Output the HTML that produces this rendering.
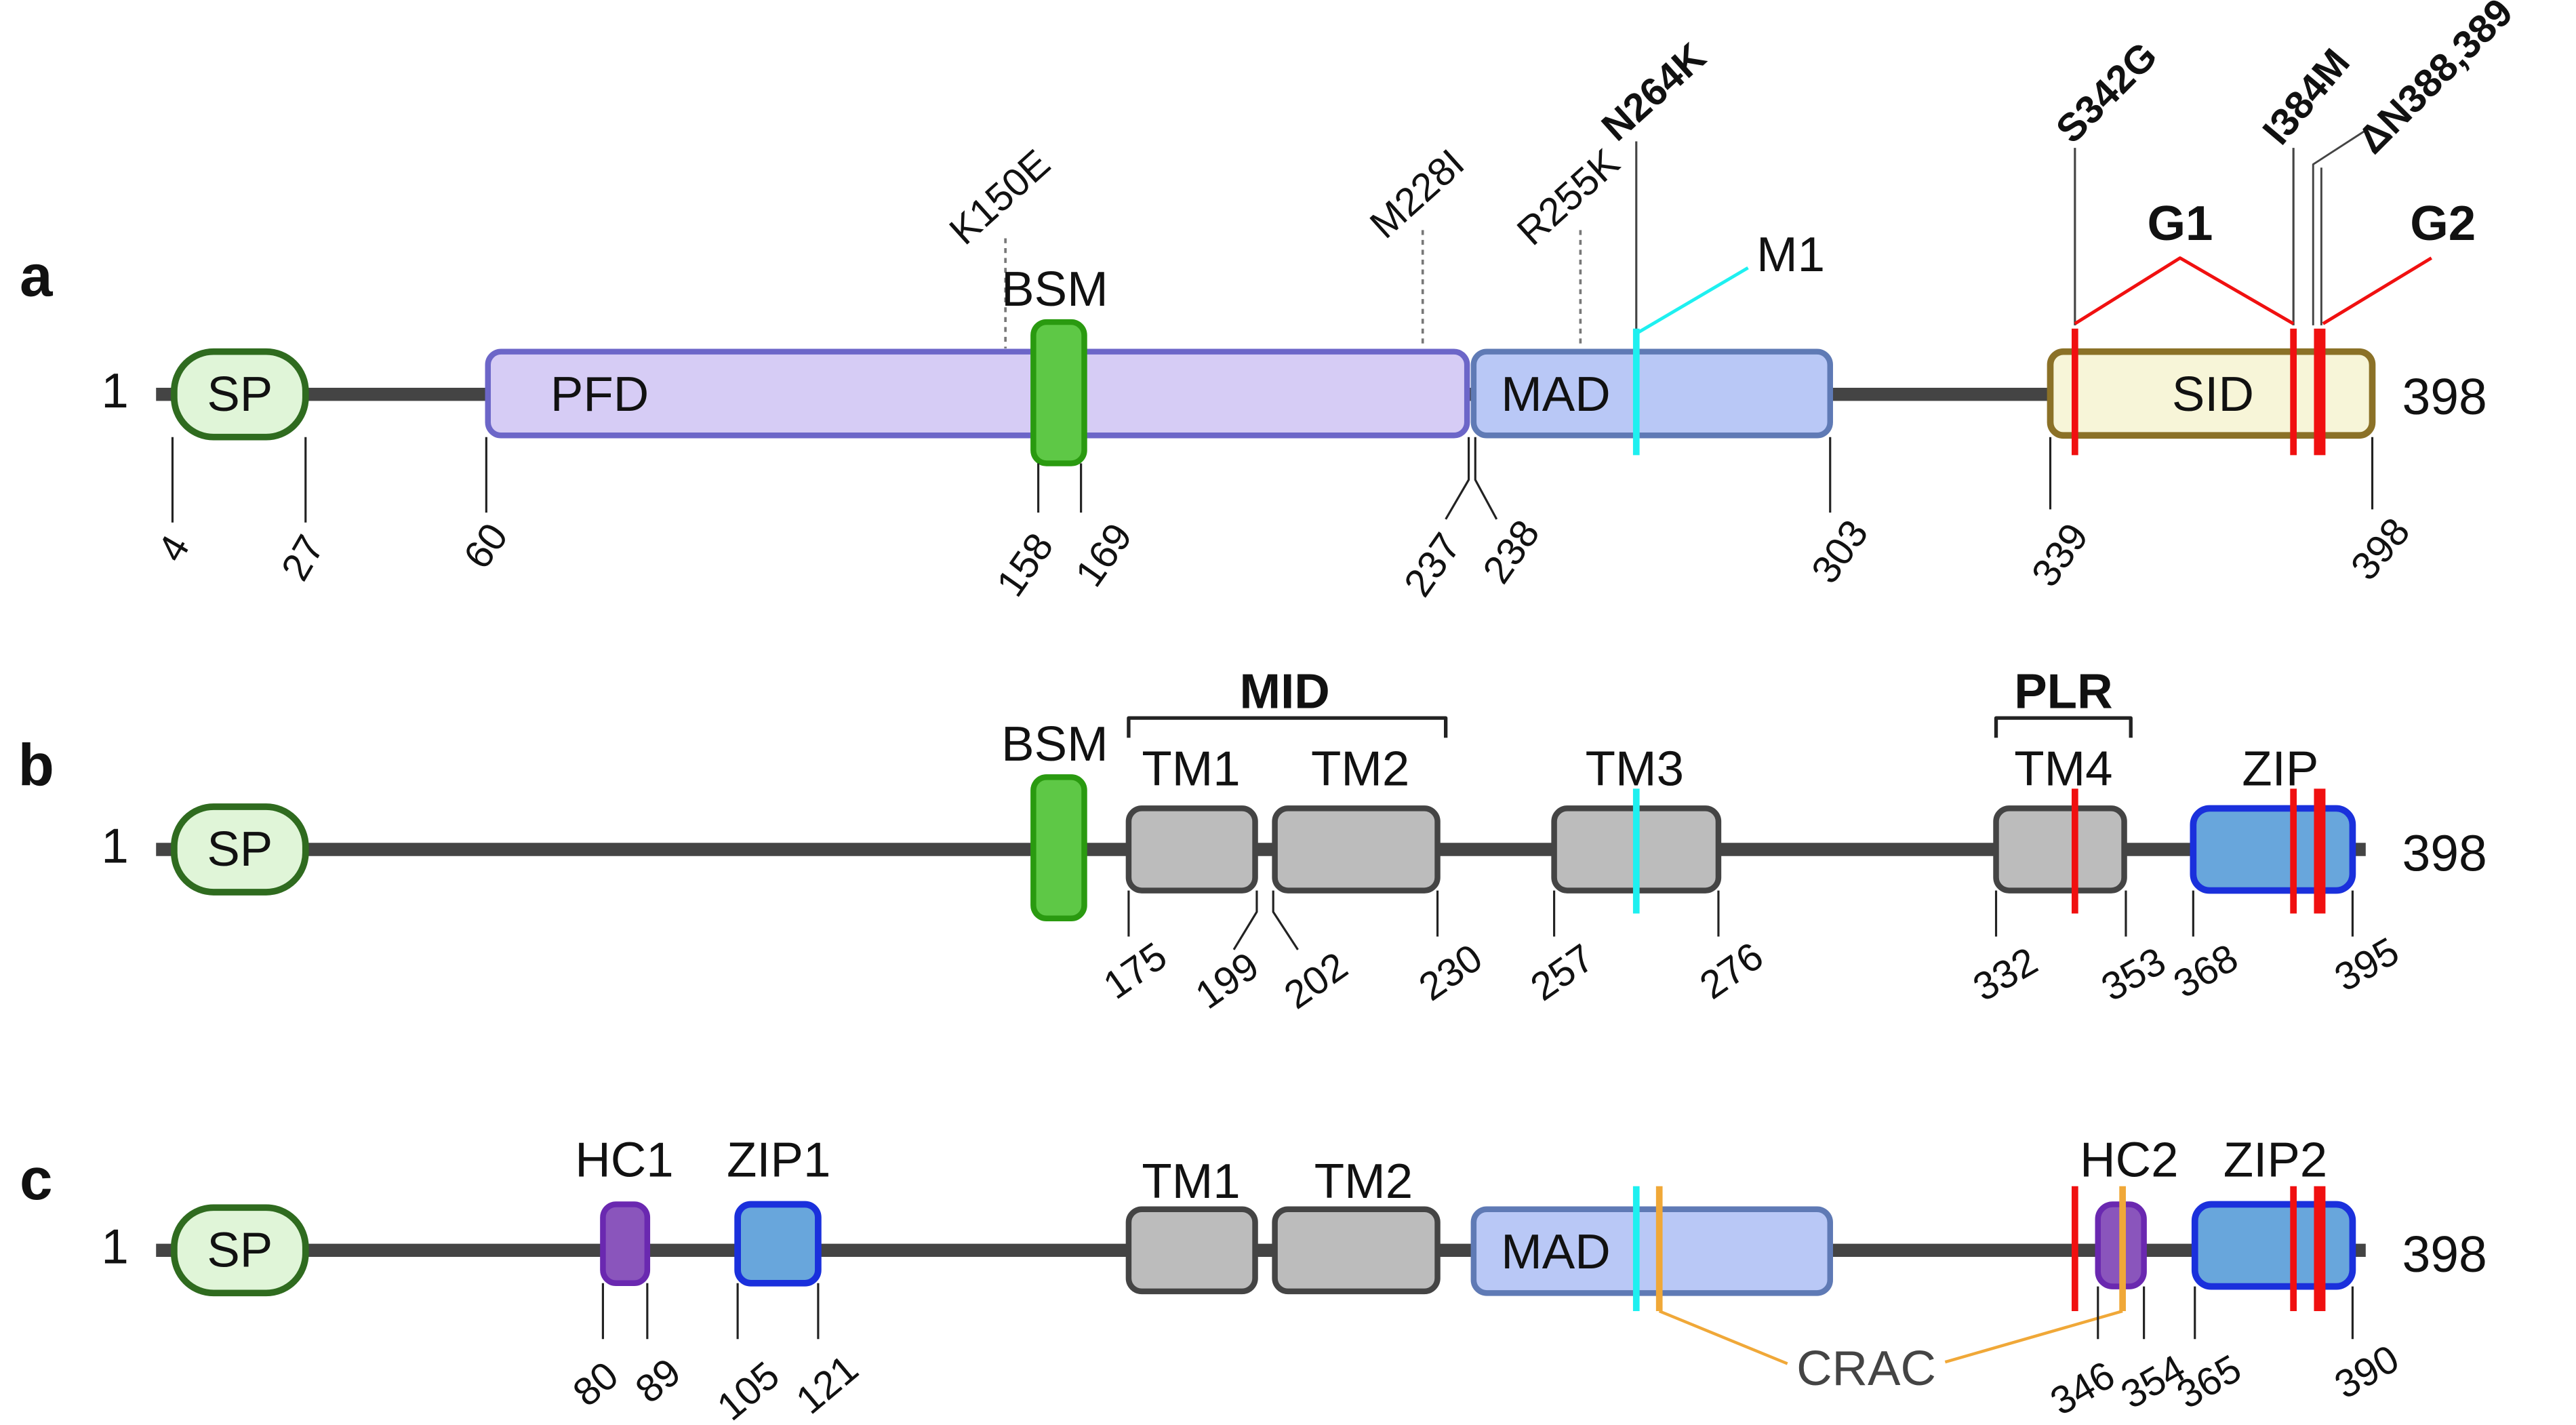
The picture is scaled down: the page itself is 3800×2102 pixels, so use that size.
<!DOCTYPE html>
<html><head><meta charset="utf-8"><style>
html,body{margin:0;padding:0;background:#fff}
svg{display:block}
text{font-family:"Liberation Sans",sans-serif;fill:#111}
.d{font-size:30px;text-anchor:middle}
.t{font-size:24px;text-anchor:end}
.m{font-size:24px;text-anchor:middle}
.b{font-weight:bold}
</style></head><body>
<svg width="3800" height="2102" viewBox="0 0 1568 867.3" xmlns="http://www.w3.org/2000/svg">
<g fill="none" stroke-linejoin="round">
<!-- ===== ROW A ===== -->
<line x1="95" y1="240" x2="1250" y2="240" stroke="#444" stroke-width="8"/>
<line x1="612" y1="145" x2="612" y2="212" stroke="#777" stroke-width="1.5" stroke-dasharray="3,3"/>
<line x1="866" y1="140" x2="866" y2="212" stroke="#777" stroke-width="1.5" stroke-dasharray="3,3"/>
<line x1="962" y1="140" x2="962" y2="212" stroke="#777" stroke-width="1.5" stroke-dasharray="3,3"/>
<rect x="106" y="214" width="80" height="52" rx="24" fill="#e0f5d8" stroke="#2f6b1f" stroke-width="4"/>
<rect x="297" y="214" width="596" height="51" rx="8" fill="#d6ccf5" stroke="#6c66c8" stroke-width="3.5"/>
<rect x="897" y="214" width="217" height="51" rx="8" fill="#b9c8f6" stroke="#5f7ab5" stroke-width="3.5"/>
<rect x="1248" y="214" width="196" height="51" rx="8" fill="#f7f5d8" stroke="#8b7127" stroke-width="4"/>
<rect x="629" y="196" width="31" height="86" rx="8" fill="#5ec846" stroke="#2a9a10" stroke-width="3.5"/>
<line x1="996" y1="86" x2="996" y2="203" stroke="#444" stroke-width="1.3"/>
<line x1="996" y1="200" x2="996" y2="277" stroke="#1ef0f0" stroke-width="4"/>
<polyline points="996,203 1064,163" stroke="#1ef0f0" stroke-width="2"/>
<line x1="1263" y1="90" x2="1263" y2="198" stroke="#444" stroke-width="1.3"/>
<line x1="1396" y1="90" x2="1396" y2="198" stroke="#444" stroke-width="1.3"/>
<polyline points="1408,198 1408,100 1442,78" stroke="#444" stroke-width="1.2"/>
<polyline points="1413,198 1413,102" stroke="#444" stroke-width="1.2"/>
<polyline points="1263,197 1327,157 1396,197" stroke="#f01010" stroke-width="2"/>
<polyline points="1414,197 1480,157" stroke="#f01010" stroke-width="2"/>
<line x1="1263" y1="200" x2="1263" y2="277" stroke="#f01010" stroke-width="4"/>
<line x1="1396" y1="200" x2="1396" y2="277" stroke="#f01010" stroke-width="4"/>
<line x1="1412" y1="200" x2="1412" y2="277" stroke="#f01010" stroke-width="7"/>
<g stroke="#222" stroke-width="1.3">
<line x1="105" y1="266" x2="105" y2="318"/><line x1="186" y1="266" x2="186" y2="318"/>
<line x1="296" y1="266" x2="296" y2="312"/><line x1="632" y1="282" x2="632" y2="312"/>
<line x1="658" y1="282" x2="658" y2="312"/><line x1="1114" y1="266" x2="1114" y2="312"/>
<line x1="1248" y1="266" x2="1248" y2="310"/><line x1="1444" y1="266" x2="1444" y2="310"/>
<polyline points="894,266 894,292 880,316"/><polyline points="898,266 898,292 911,316"/>
</g>
<!-- ===== ROW B ===== -->
<line x1="95" y1="517" x2="1440" y2="517" stroke="#444" stroke-width="8"/>
<rect x="106" y="491" width="80" height="52" rx="24" fill="#e0f5d8" stroke="#2f6b1f" stroke-width="4"/>
<rect x="629" y="473" width="31" height="86" rx="8" fill="#5ec846" stroke="#2a9a10" stroke-width="3.5"/>
<rect x="687" y="492" width="77" height="50" rx="8" fill="#bcbcbc" stroke="#444" stroke-width="3.5"/>
<rect x="776" y="492" width="99" height="50" rx="8" fill="#bcbcbc" stroke="#444" stroke-width="3.5"/>
<rect x="946" y="492" width="100" height="50" rx="8" fill="#bcbcbc" stroke="#444" stroke-width="3.5"/>
<rect x="1215" y="492" width="78" height="50" rx="8" fill="#bcbcbc" stroke="#444" stroke-width="3.5"/>
<rect x="1335" y="492" width="97" height="50" rx="10" fill="#68a6dc" stroke="#1a30dc" stroke-width="4"/>
<line x1="996" y1="480" x2="996" y2="556" stroke="#1ef0f0" stroke-width="4"/>
<line x1="1263" y1="480" x2="1263" y2="556" stroke="#f01010" stroke-width="4"/>
<line x1="1396" y1="480" x2="1396" y2="556" stroke="#f01010" stroke-width="4"/>
<line x1="1412" y1="480" x2="1412" y2="556" stroke="#f01010" stroke-width="7"/>
<polyline points="687,449 687,437 880,437 880,449" stroke="#222" stroke-width="2.2"/>
<polyline points="1215,449 1215,437 1297,437 1297,449" stroke="#222" stroke-width="2.2"/>
<g stroke="#222" stroke-width="1.3">
<line x1="687" y1="542" x2="687" y2="570"/><polyline points="765,542 765,555 751,578"/>
<polyline points="775,542 775,555 790,578"/><line x1="875" y1="542" x2="875" y2="570"/>
<line x1="946" y1="542" x2="946" y2="570"/><line x1="1046" y1="542" x2="1046" y2="570"/>
<line x1="1215" y1="542" x2="1215" y2="570"/><line x1="1294" y1="542" x2="1294" y2="570"/>
<line x1="1335" y1="542" x2="1335" y2="570"/><line x1="1432" y1="542" x2="1432" y2="570"/>
</g>
<!-- ===== ROW C ===== -->
<line x1="95" y1="761" x2="1440" y2="761" stroke="#444" stroke-width="8"/>
<rect x="106" y="735" width="80" height="52" rx="24" fill="#e0f5d8" stroke="#2f6b1f" stroke-width="4"/>
<rect x="367" y="733" width="27" height="48" rx="8" fill="#8a55bc" stroke="#6a28b0" stroke-width="3.5"/>
<rect x="449" y="733" width="49" height="48" rx="8" fill="#68a6dc" stroke="#1a30dc" stroke-width="4"/>
<rect x="687" y="736" width="77" height="50" rx="8" fill="#bcbcbc" stroke="#444" stroke-width="3.5"/>
<rect x="776" y="736" width="99" height="50" rx="8" fill="#bcbcbc" stroke="#444" stroke-width="3.5"/>
<rect x="897" y="736" width="217" height="51" rx="8" fill="#b9c8f6" stroke="#5f7ab5" stroke-width="3.5"/>
<rect x="1277" y="733" width="28" height="50" rx="9" fill="#8a55bc" stroke="#6a28b0" stroke-width="3.5"/>
<rect x="1336" y="733" width="96" height="50" rx="10" fill="#68a6dc" stroke="#1a30dc" stroke-width="4"/>
<line x1="996" y1="722" x2="996" y2="798" stroke="#1ef0f0" stroke-width="4"/>
<line x1="1010" y1="722" x2="1010" y2="798" stroke="#f0a838" stroke-width="4"/>
<line x1="1263" y1="722" x2="1263" y2="798" stroke="#f01010" stroke-width="4"/>
<line x1="1292" y1="722" x2="1292" y2="798" stroke="#f0a838" stroke-width="4"/>
<line x1="1396" y1="722" x2="1396" y2="798" stroke="#f01010" stroke-width="4"/>
<line x1="1412" y1="722" x2="1412" y2="798" stroke="#f01010" stroke-width="7"/>
<polyline points="1010,798 1088,830" stroke="#f0a838" stroke-width="1.8"/>
<polyline points="1292,798 1184,829" stroke="#f0a838" stroke-width="1.8"/>
<g stroke="#222" stroke-width="1.3">
<line x1="367" y1="781" x2="367" y2="815"/><line x1="394" y1="781" x2="394" y2="815"/>
<line x1="449" y1="781" x2="449" y2="815"/><line x1="498" y1="781" x2="498" y2="815"/>
<line x1="1277" y1="783" x2="1277" y2="815"/><line x1="1305" y1="783" x2="1305" y2="815"/>
<line x1="1336" y1="783" x2="1336" y2="815"/><line x1="1432" y1="783" x2="1432" y2="815"/>
</g>
</g>

<!-- ===== TEXT ===== -->
<text x="22" y="180" font-size="36" class="b" text-anchor="middle">a</text>
<text x="22" y="478" font-size="36" class="b" text-anchor="middle">b</text>
<text x="22" y="730" font-size="36" class="b" text-anchor="middle">c</text>
<text x="70" y="248" font-size="30" text-anchor="middle">1</text>
<text x="70" y="525" font-size="30" text-anchor="middle">1</text>
<text x="70" y="769" font-size="30" text-anchor="middle">1</text>
<text x="1488" y="252" font-size="31" text-anchor="middle">398</text>
<text x="1488" y="530" font-size="31" text-anchor="middle">398</text>
<text x="1488" y="774" font-size="31" text-anchor="middle">398</text>

<text class="d" x="146" y="250">SP</text>
<text class="d" x="146" y="527">SP</text>
<text class="d" x="146" y="771">SP</text>
<text class="d" x="365" y="250">PFD</text>
<text class="d" x="947" y="250">MAD</text>
<text class="d" x="947" y="772">MAD</text>
<text class="d" x="1347" y="250">SID</text>
<text class="d" x="642" y="186">BSM</text>
<text class="d" x="642" y="463">BSM</text>
<text class="d" x="1090" y="165">M1</text>
<text class="d b" x="1327" y="146">G1</text>
<text class="d b" x="1487" y="146">G2</text>
<text class="d b" x="782" y="431">MID</text>
<text class="d b" x="1256" y="431">PLR</text>
<text class="d" x="725" y="478">TM1</text>
<text class="d" x="828" y="478">TM2</text>
<text class="d" x="995" y="478">TM3</text>
<text class="d" x="1256" y="478">TM4</text>
<text class="d" x="1388" y="478">ZIP</text>
<text class="d" x="380" y="716">HC1</text>
<text class="d" x="474" y="716">ZIP1</text>
<text class="d" x="725" y="729">TM1</text>
<text class="d" x="830" y="729">TM2</text>
<text class="d" x="1296" y="716">HC2</text>
<text class="d" x="1385" y="716">ZIP2</text>
<text class="d" x="1136" y="843" style="fill:#444">CRAC</text>

<!-- mutation labels -->
<text class="m" transform="translate(614,126) rotate(-42)">K150E</text>
<text class="m" transform="translate(868,124) rotate(-42)">M228I</text>
<text class="m" transform="translate(960,126) rotate(-42)">R255K</text>
<text class="m b" font-size="25" transform="translate(1012,62) rotate(-42)">N264K</text>
<text class="m b" font-size="25" transform="translate(1288,62) rotate(-45)">S342G</text>
<text class="m b" font-size="25" transform="translate(1410,64) rotate(-50)">I384M</text>
<text class="m b" font-size="25" transform="translate(1488,52) rotate(-45)">ΔN388,389</text>

<!-- tick labels row a -->
<text class="t" transform="translate(116,332) rotate(-60)">4</text>
<text class="t" transform="translate(198,332) rotate(-60)">27</text>
<text class="t" transform="translate(310,326) rotate(-55)">60</text>
<text class="t" transform="translate(642,332) rotate(-55)">158</text>
<text class="t" transform="translate(690,326) rotate(-55)">169</text>
<text class="t" transform="translate(890,332) rotate(-55)">237</text>
<text class="t" transform="translate(938,324) rotate(-55)">238</text>
<text class="t" transform="translate(1138,324) rotate(-55)">303</text>
<text class="t" transform="translate(1272,326) rotate(-55)">339</text>
<text class="t" transform="translate(1468,324) rotate(-50)">398</text>
<!-- tick labels row b -->
<text class="t" transform="translate(712,586) rotate(-35)">175</text>
<text class="t" transform="translate(768,592) rotate(-35)">199</text>
<text class="t" transform="translate(822,592) rotate(-35)">202</text>
<text class="t" transform="translate(904,587) rotate(-35)">230</text>
<text class="t" transform="translate(972,587) rotate(-35)">257</text>
<text class="t" transform="translate(1075,586) rotate(-35)">276</text>
<text class="t" transform="translate(1242,590) rotate(-30)">332</text>
<text class="t" transform="translate(1320,590) rotate(-30)">353</text>
<text class="t" transform="translate(1364,588) rotate(-30)">368</text>
<text class="t" transform="translate(1462,584) rotate(-30)">395</text>
<!-- tick labels row c -->
<text class="t" transform="translate(378,840) rotate(-40)">80</text>
<text class="t" transform="translate(416,838) rotate(-40)">89</text>
<text class="t" transform="translate(476,840) rotate(-40)">105</text>
<text class="t" transform="translate(524,836) rotate(-40)">121</text>
<text class="t" transform="translate(1289,842) rotate(-30)">346</text>
<text class="t" transform="translate(1332,838) rotate(-30)">354</text>
<text class="t" transform="translate(1366,838) rotate(-30)">365</text>
<text class="t" transform="translate(1462,832) rotate(-30)">390</text>
</svg>
</body></html>
